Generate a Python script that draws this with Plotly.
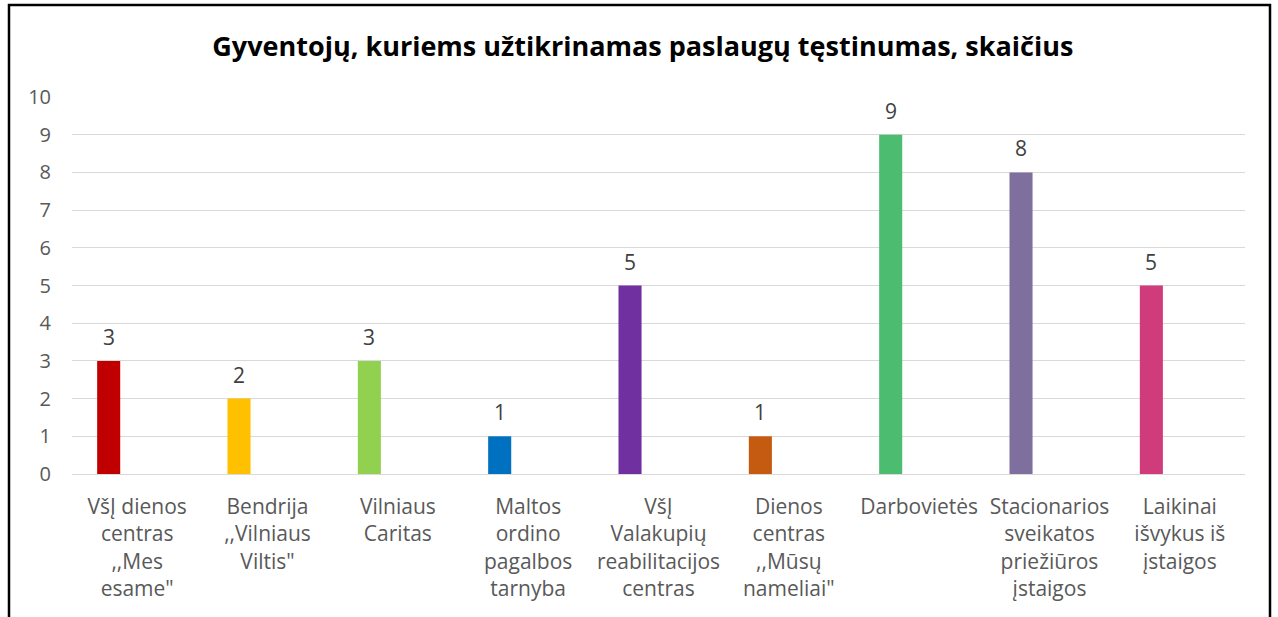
import plotly.graph_objects as go

categories = [
    "VšĮ dienos<br>centras<br>,,Mes<br>esame\"",
    "Bendrija<br>,,Vilniaus<br>Viltis\"",
    "Vilniaus<br>Caritas",
    "Maltos<br>ordino<br>pagalbos<br>tarnyba",
    "VšĮ<br>Valakupių<br>reabilitacijos<br>centras",
    "Dienos<br>centras<br>,,Mūsų<br>nameliai\"",
    "Darbovietės",
    "Stacionarios<br>sveikatos<br>priežiūros<br>įstaigos",
    "Laikinai<br>išvykus iš<br>įstaigos",
]
values = [3, 2, 3, 1, 5, 1, 9, 8, 5]
colors = ["#C00000", "#FFC000", "#92D050", "#0070C0", "#7030A0",
          "#C55A11", "#4CBC70", "#7F6F9F", "#D03B7B"]
keys = list(range(len(categories)))
y_ticks = list(range(0, 11))

W, H = 1278, 617
L, R, T, B = 72, 33, 97, 143
pw = W - L - R
ph = H - T - B

bar_w = 0.177
bar_off = -0.307
FONT = "Open Sans"

fig = go.Figure()
fig.add_trace(go.Bar(
    x=keys, y=values, marker=dict(color=colors, line=dict(width=0)),
    width=bar_w, offset=bar_off, hoverinfo="skip",
))

annotations = []
for k, v in zip(keys, values):
    annotations.append(dict(
        x=k + bar_off + bar_w / 2, y=v, xref="x", yref="y",
        text=str(v), showarrow=False, yanchor="bottom", yshift=8,
        font=dict(family=FONT, size=21, color="#404040"),
    ))

fig.update_layout(
    width=W, height=H,
    margin=dict(l=L, r=R, t=T, b=B, pad=0),
    paper_bgcolor="white", plot_bgcolor="white",
    showlegend=False,
    title=dict(
        text="<b>Gyventojų, kuriems užtikrinamas paslaugų tęstinumas, skaičius</b>",
        font=dict(family=FONT, size=27, color="black"),
        x=0.503, xref="container", xanchor="center",
        y=1 - 47 / H, yref="container", yanchor="middle",
    ),
    xaxis=dict(
        tickmode="array", tickvals=keys, ticktext=categories,
        range=[-0.5, len(keys) - 0.5],
        showgrid=False, zeroline=False, showline=False,
        ticks="", ticklabelstandoff=18,
        tickfont=dict(family=FONT, size=21, color="#595959"),
    ),
    yaxis=dict(
        range=[0, 10], tickmode="array", tickvals=y_ticks,
        showgrid=True, gridcolor="#D9D9D9", gridwidth=1,
        zeroline=True, zerolinecolor="#D9D9D9", zerolinewidth=1,
        showline=False, ticks="", ticklabelstandoff=20,
        tickfont=dict(family=FONT, size=20, color="#595959"),
    ),
    annotations=annotations,
    shapes=[dict(
        type="rect", xref="paper", yref="paper",
        x0=(9 - L) / pw, x1=(1270 - L) / pw,
        y0=-0.5, y1=(H - B - 5) / ph,
        line=dict(color="black", width=2.5), fillcolor="rgba(0,0,0,0)",
        layer="above",
    )],
)

fig.write_html(
    "out.html",
    config={"displayModeBar": False},
    post_script="document.body.style.margin='0';document.body.style.padding='0';",
)
